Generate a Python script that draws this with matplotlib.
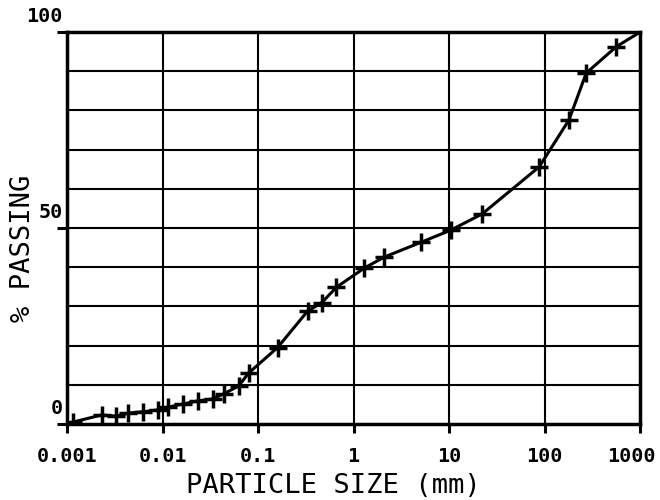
import numpy as np
import matplotlib.pyplot as plt
from matplotlib.ticker import FixedLocator, FixedFormatter, NullLocator
import matplotlib.transforms as mtransforms

# particle size (mm) and % passing
size_mm = [0.00116, 0.0023, 0.00325, 0.0044, 0.0062, 0.0089, 0.0114, 0.0163,
           0.0234, 0.0335, 0.0437, 0.0627, 0.0796, 0.160, 0.330, 0.462,
           0.662, 1.30, 2.10, 5.13, 10.5, 22.2, 87.7, 180, 272, 558]
passing = [0.5, 2.3, 2.0, 2.8, 3.1, 3.6, 4.3, 5.1, 5.9, 6.4, 7.7, 9.7, 13.0,
           19.5, 28.8, 30.9, 34.9, 39.8, 42.6, 46.4, 49.5, 53.6, 65.6, 77.6,
           89.5, 96.2]

# the drawn curve runs on from the first mark to the lower left corner
# and from the last mark to the upper right corner
line_x = [0.001] + size_mm + [1000]
line_y = [0.0] + passing + [100.0]

x_ticks = [0.001, 0.01, 0.1, 1, 10, 100, 1000]
x_labels = ['0.001', '0.01', '0.1', '1', '10', '100', '1000']
y_ticks = [0, 50, 100]
y_labels = ['0', '50', '100']

MONO = 'DejaVu Sans Mono'

fig = plt.figure(figsize=(6.6, 5.0), dpi=100)
ax = fig.add_axes([0.1015, 0.152, 0.8685, 0.784])

ax.set_xscale('log')
ax.set_xlim(0.001, 1000)
ax.set_ylim(0, 100)

# grid: every decade and every 10 %
for xv in x_ticks[1:-1]:
    ax.axvline(xv, color='black', lw=1.5, zorder=1)
for yv in range(10, 100, 10):
    ax.axhline(yv, color='black', lw=1.5, zorder=1)

ax.plot(line_x, line_y, color='black', lw=2.2, zorder=3)
ax.plot(size_mm, passing, ls='none', marker='+', ms=13, mew=2.5,
        color='black', zorder=4)

for s in ax.spines.values():
    s.set_linewidth(2.5)

ax.xaxis.set_major_locator(FixedLocator(x_ticks))
ax.xaxis.set_major_formatter(FixedFormatter(x_labels))
ax.xaxis.set_minor_locator(NullLocator())
ax.yaxis.set_major_locator(FixedLocator(y_ticks))
ax.yaxis.set_major_formatter(FixedFormatter(y_labels))

ax.tick_params(axis='x', direction='out', length=6.5, width=2.2, pad=10,
               labelsize=14.5)
ax.tick_params(axis='y', direction='out', length=7, width=2.2, pad=-4,
               labelsize=14.5)
for lbl in ax.get_xticklabels() + ax.get_yticklabels():
    lbl.set_family(MONO)
    lbl.set_weight('bold')

# y labels sit just above their line in the original
off = mtransforms.ScaledTranslation(0, 4 / 72, fig.dpi_scale_trans)
for lbl in ax.get_yticklabels():
    lbl.set_va('bottom')
    lbl.set_transform(lbl.get_transform() + off)

# last x label is pulled in a little from the right edge
last = ax.get_xticklabels()[-1]
last.set_transform(last.get_transform() +
                   mtransforms.ScaledTranslation(-6 / 72, 0, fig.dpi_scale_trans))

ax.set_xlabel('PARTICLE SIZE (mm)', family=MONO, fontsize=19.5)
ax.xaxis.set_label_coords(0.465, -0.125)
ax.set_ylabel('% PASSING', family=MONO, fontsize=19.5)
ax.yaxis.set_label_coords(-0.077, 0.449)
ax.yaxis.label.set_va('center')

fig.savefig('out.png', dpi=100)
